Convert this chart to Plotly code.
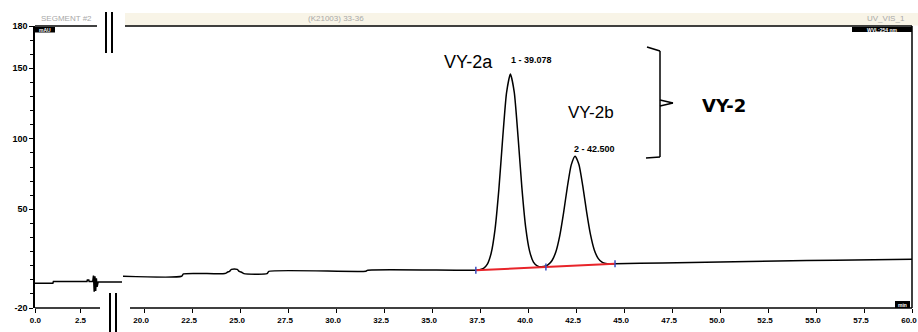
import plotly.graph_objects as go

# ---------------- data ----------------
# left segment of the broken time axis (min) and signal (mAU)
seg1_time = [-0.02, 0.97, 1.0, 2.86, 2.88, 2.96, 2.98, 3.18, 3.22, 3.26, 3.30, 3.34, 3.38, 3.42, 3.48, 4.8]
seg1_mau = [-2.4, -2.4, -1.2, -1.2, -0.2, -0.2, -1.2, -1.2, 3.0, -8.5, 2.5, -8.0, 1.0, -5.0, -1.5, -1.5]

# right segment
seg2_time = [18.9, 21.95, 22.05, 24.2, 24.35, 24.45, 24.55, 24.85, 24.95, 25.1, 25.2, 26.4, 26.5,
             31.55, 31.65, 37.28, 37.48, 37.68, 37.88, 38.08, 38.28, 38.48, 38.68, 38.88, 39.08,
             39.28, 39.48, 39.68, 39.88, 40.08, 40.28, 40.48, 40.68, 40.93, 41.05, 41.25, 41.45,
             41.65, 41.85, 42.05, 42.25, 42.45, 42.65, 42.85, 43.05, 43.25, 43.45, 43.65, 43.85,
             44.05, 44.25, 44.53, 47.0, 50.0, 53.0, 56.0, 60.0]
seg2_mau = [2.5, 2.5, 4.2, 4.4, 5.5, 6.0, 7.4, 7.4, 6.0, 5.2, 4.4, 4.4, 6.0,
            6.1, 6.8, 6.8, 7.2, 8.1, 11.1, 19.0, 35.8, 64.3, 100.7, 132.8, 145.9,
            133.1, 101.2, 65.0, 36.8, 20.3, 12.6, 9.9, 9.2, 9.8, 10.7, 13.7, 19.9,
            31.2, 47.5, 66.1, 81.5, 87.7, 81.8, 66.6, 48.2, 32.2, 21.2, 15.2, 12.5,
            11.5, 11.3, 11.4, 12.0, 12.6, 13.3, 13.9, 14.5]

# integration baseline (red) and its delimiters (blue)
base_time = [37.28, 40.93, 44.53]
base_mau = [6.8, 9.1, 11.37]

# peak labels
peak_labels = ["1 - 39.078", "2 - 42.500"]
compound_labels = ["VY-2a", "VY-2b"]
group_label = "VY-2"

seg1_ticks = [0.0, 2.5]
y_ticks = [-20, 50, 100, 150, 180]
y_minor = [v for v in range(-10, 180, 10) if v not in (50, 100, 150)]

header_left = "SEGMENT #2"
header_mid = "(K21003) 33-36"
header_right = "UV_VIS_1"

# ---------------- geometry helpers ----------------
W, H = 918, 332
L, R, T, B = 35, 912, 26, 308


def px(x):
    return (x - L) / (R - L)


def py(y):
    return (B - y) / (B - T)


fig = go.Figure()
fig.add_trace(go.Scatter(x=seg1_time, y=seg1_mau, xaxis="x", yaxis="y", mode="lines",
                         line=dict(color="black", width=1.5), hoverinfo="skip"))
fig.add_trace(go.Scatter(x=seg2_time, y=seg2_mau, xaxis="x2", yaxis="y", mode="lines",
                         line=dict(color="black", width=1.5, shape="spline", smoothing=0.6),
                         hoverinfo="skip"))
fig.add_trace(go.Scatter(x=base_time, y=base_mau, xaxis="x2", yaxis="y", mode="lines",
                         line=dict(color="#e8242a", width=2), hoverinfo="skip"))
fig.add_trace(go.Scatter(x=base_time, y=base_mau, xaxis="x2", yaxis="y", mode="markers",
                         marker=dict(symbol="line-ns", size=5, line=dict(color="#3a4fc0", width=1.5)),
                         hoverinfo="skip"))

xtickfont = dict(family="Liberation Sans", size=8, color="black", weight="bold")
ytickfont = dict(family="Liberation Sans", size=9, color="black", weight="bold")

shapes = []


def seg(x0, y0, x1, y1, w=1.5, color="black"):
    shapes.append(dict(type="line", xref="paper", yref="paper", x0=px(x0), y0=py(y0),
                       x1=px(x1), y1=py(y1), line=dict(color=color, width=w)))


def box(x0, y0, x1, y1, fill, layer="above"):
    shapes.append(dict(type="rect", xref="paper", yref="paper", x0=px(x0), y0=py(y0),
                       x1=px(x1), y1=py(y1), fillcolor=fill, line=dict(width=0), layer=layer))


box(125, 13, 918, 25.5, "#f8f4e7", layer="below")
seg(35, 26, 97, 26)
seg(125, 26, 912, 26)
seg(35, 308, 100, 308)
seg(130, 308, 912, 308)
seg(912, 26, 912, 308)
# axis break marks
seg(106, 12, 106, 53, 2)
seg(112, 12, 112, 53, 2)
seg(110, 293, 110, 332, 2)
seg(116, 293, 116, 332, 2)
# bracket
seg(647, 47, 660, 51, 1.5)
seg(660, 51, 660, 157, 1.5)
seg(646, 158, 660, 157, 1.5)
seg(660, 100, 673, 103, 1.5)
seg(660, 106, 673, 103, 1.5)
# small black label boxes
box(35, 27, 55, 32.5, "black")
box(852, 27, 912, 32, "black")
box(895, 301, 910, 308, "black")

ann = []


def text(x, y, s, size, color="black", bold=False, family="Liberation Sans", xanchor="center"):
    ann.append(dict(xref="paper", yref="paper", x=px(x), y=py(y), text=s, showarrow=False,
                    xanchor=xanchor, yanchor="middle",
                    font=dict(family=family, size=size, color=color,
                              weight="bold" if bold else "normal")))


text(66, 19, header_left, 8, "#a8a8a8")
text(336, 19, header_mid, 8, "#a8a8a8")
text(886, 19, header_right, 8, "#a8a8a8")
text(45, 29.8, "mAU", 5, "white", True)
text(882, 29.5, "WVL:254 nm", 5, "white", True)
text(902.5, 304.5, "min", 5, "white", True)
text(468, 62, compound_labels[0], 18)
text(591, 113, compound_labels[1], 17)
text(724, 106, group_label, 18, bold=True, family="DejaVu Sans")
text(531, 60, peak_labels[0], 9, bold=True)
text(594, 149, peak_labels[1], 9, bold=True)

fig.update_layout(
    width=W, height=H,
    margin=dict(l=L, r=W - R, t=T, b=H - B, autoexpand=False),
    paper_bgcolor="white", plot_bgcolor="white",
    showlegend=False,
    xaxis=dict(domain=[0, px(122)], range=[-0.02, 4.8], anchor="y",
               tickmode="array", tickvals=seg1_ticks, ticktext=[f"{v:.1f}" for v in seg1_ticks],
               ticks="outside", ticklen=4, tickwidth=1, tickcolor="black",
               showgrid=False, zeroline=False, showline=False, tickfont=xtickfont,
               ticklabeloverflow="allow", automargin=False),
    xaxis2=dict(domain=[px(123), 1], range=[18.9, 60.0], anchor="y",
                tick0=0, dtick=2.5, tickformat=".1f",
                ticks="outside", ticklen=4, tickwidth=1, tickcolor="black",
                showgrid=False, zeroline=False, showline=False, tickfont=xtickfont,
                ticklabeloverflow="allow", automargin=False, ticklabelshift=-3),
    yaxis=dict(domain=[0, 1], range=[-20, 180], anchor="x",
               tickmode="array", tickvals=y_ticks, ticktext=[str(v) for v in y_ticks],
               ticks="outside", ticklen=4, tickwidth=1, tickcolor="black",
               minor=dict(tickmode="array", tickvals=y_minor, ticks="outside", ticklen=3,
                          tickwidth=1, tickcolor="black"),
               showgrid=False, zeroline=False, showline=True, linecolor="black", linewidth=1.5,
               tickfont=ytickfont, automargin=False),
    shapes=shapes,
    annotations=ann,
)

fig.write_html("out.html", config={"displayModeBar": False},
               post_script="document.body.style.margin='0px';document.body.style.overflow='hidden';")
